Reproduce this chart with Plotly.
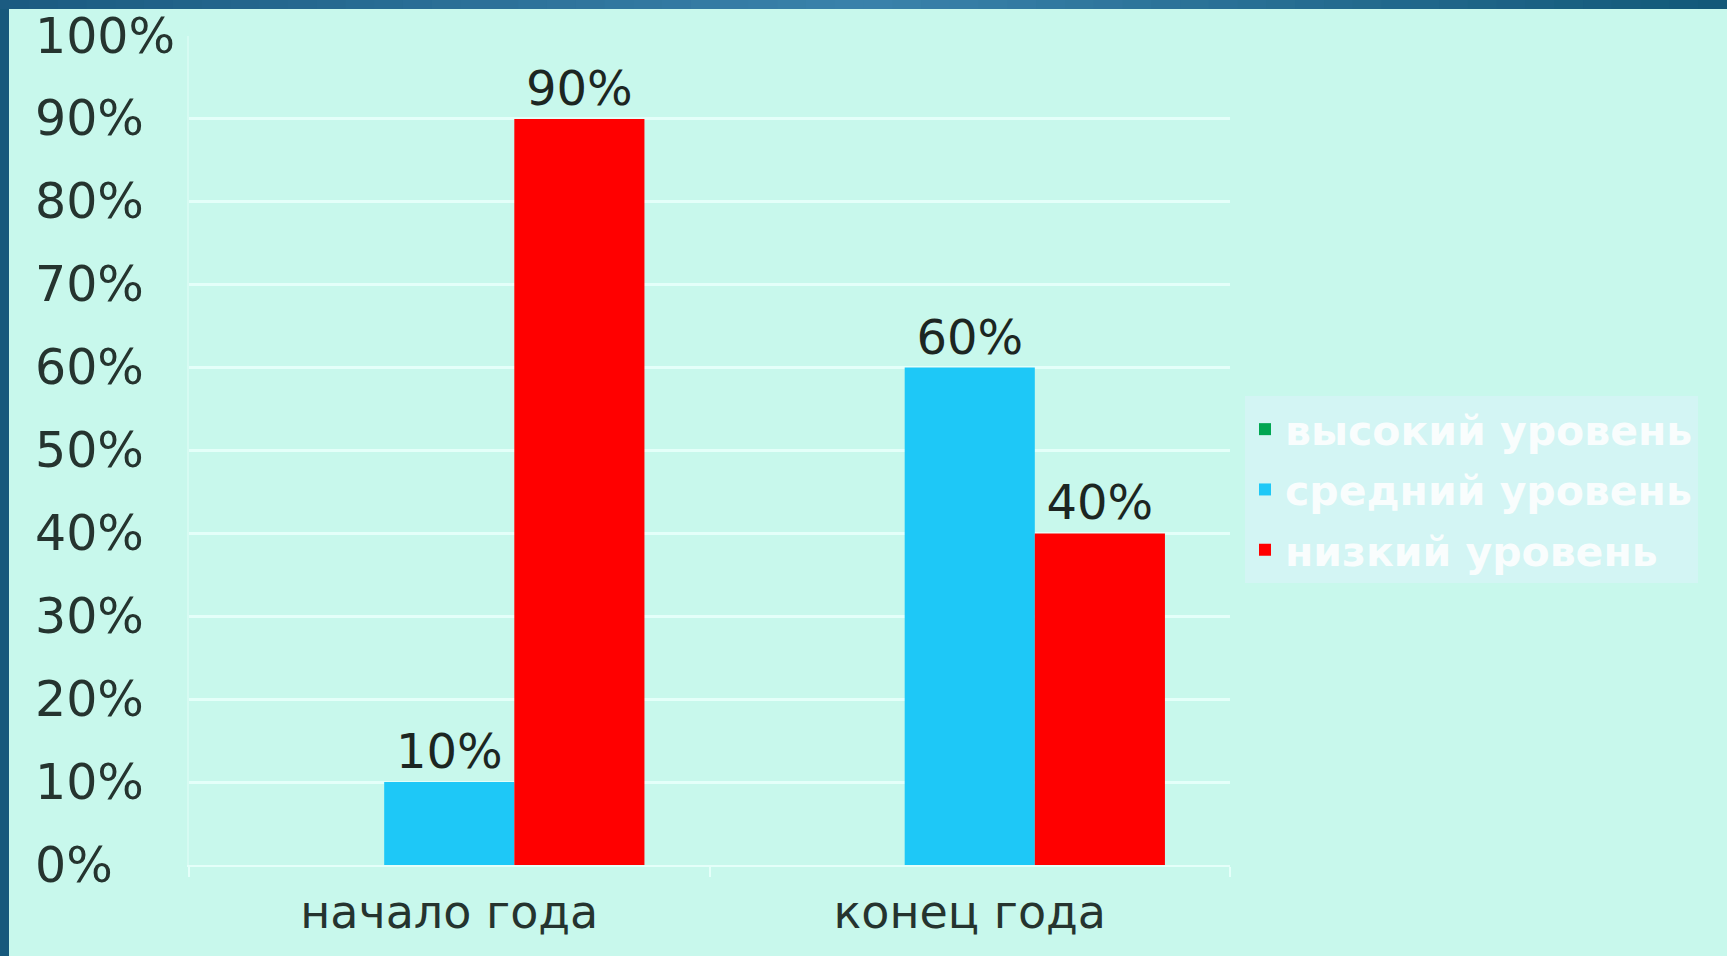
import plotly.graph_objects as go

# ---- data ----
categories = ["начало года", "конец года"]
series_names = ["высокий уровень", "средний уровень", "низкий уровень"]
high_values = [0, 0]
mid_values = [10, 60]
low_values = [90, 40]
y_tick_values = [0, 10, 20, 30, 40, 50, 60, 70, 80, 90, 100]
y_tick_labels = ["0%", "10%", "20%", "30%", "40%", "50%", "60%", "70%", "80%", "90%", "100%"]

colors = ["#00A651", "#1EC8F7", "#FF0000"]
BG = "#C8F8EC"
GRID = "#E4FFF9"
TEXT = "#25342F"
FONT = "DejaVu Sans, Verdana, sans-serif"

W, H = 1727, 956
L, R, T, B = 189, 1727 - 1230, 36, 956 - 865
PW, PH = W - L - R, H - T - B

fig = go.Figure()
for name, vals, col in zip(series_names, [high_values, mid_values, low_values], colors):
    fig.add_trace(go.Bar(
        x=categories, y=vals, name=name,
        marker=dict(color=col, line=dict(width=0)),
        text=[f"{v}%" if v else "" for v in vals],
        textposition="outside",
        textfont=dict(family=FONT, size=48, color="#1C2622"),
        cliponaxis=False,
        legendgroup=name,
    ))

# y tick labels: left aligned at the page edge, placed through the y scale
annotations = []
for v, lab in zip(y_tick_values, y_tick_labels):
    annotations.append(dict(
        x=(33 - L) / PW, xref="paper", xanchor="left",
        y=v, yref="y", yanchor="middle",
        text=lab, showarrow=False,
        font=dict(family=FONT, size=49, color=TEXT),
    ))

# slide frame: dark left strip and gradient top strip
shapes = [dict(type="rect", xref="paper", yref="paper", xsizemode="pixel", ysizemode="pixel",
               xanchor=0, yanchor=0, x0=-L, x1=-L + 9, y0=-B, y1=PH + T,
               fillcolor="#16597C", line=dict(width=0), layer="above")]
# gradient stops (position along width, colour)
grad_stops = [(0.0, (0x1A, 0x5A, 0x80)), (0.5, (0x3A, 0x82, 0xAB)), (1.0, (0x12, 0x58, 0x78))]
nseg = 60
for i in range(nseg):
    t = (i + 0.5) / nseg
    for (p0, c0), (p1, c1) in zip(grad_stops[:-1], grad_stops[1:]):
        if p0 <= t <= p1:
            f = (t - p0) / (p1 - p0)
            c = tuple(int(round(a + (b - a) * f)) for a, b in zip(c0, c1))
            break
    shapes.append(dict(type="rect", xref="paper", yref="paper", xsizemode="pixel", ysizemode="pixel",
                       xanchor=0, yanchor=1, x0=-L + i * W / nseg, x1=-L + (i + 1) * W / nseg + 1,
                       y0=T, y1=T - 9, fillcolor="rgb(%d,%d,%d)" % c, line=dict(width=0), layer="above"))

fig.update_layout(
    width=W, height=H,
    margin=dict(l=L, r=R, t=T, b=B, autoexpand=False),
    paper_bgcolor=BG, plot_bgcolor=BG,
    barmode="group", bargap=0.25, bargroupgap=0,
    showlegend=True,
    legend=dict(
        x=1 + (1245 - 1230) / PW, xanchor="left",
        y=(865 - 396) / PH, yanchor="top",
        bgcolor="rgba(225,242,255,0.45)",
        font=dict(family=FONT, size=41, color="rgba(255,255,255,0.88)", weight="bold"),
        traceorder="grouped", tracegroupgap=4,
        itemclick=False, itemdoubleclick=False,
    ),
    xaxis=dict(
        showgrid=False, showline=True, linecolor=GRID, linewidth=2,
        ticks="outside", ticklen=10, tickcolor=GRID, tickwidth=2, tickson="boundaries",
        ticklabelstandoff=6,
        tickfont=dict(family=FONT, size=46, color=TEXT),
    ),
    yaxis=dict(
        range=[0, 100], tickvals=y_tick_values, showticklabels=False,
        showgrid=True, gridcolor=GRID, gridwidth=3,
        zeroline=False, showline=True, linecolor="#D6FBF2", linewidth=2,
    ),
    annotations=annotations,
    shapes=shapes,
)

fig.write_html("out.html", config={"displayModeBar": False},
               post_script="document.body.style.margin='0';document.body.style.overflow='hidden';")
